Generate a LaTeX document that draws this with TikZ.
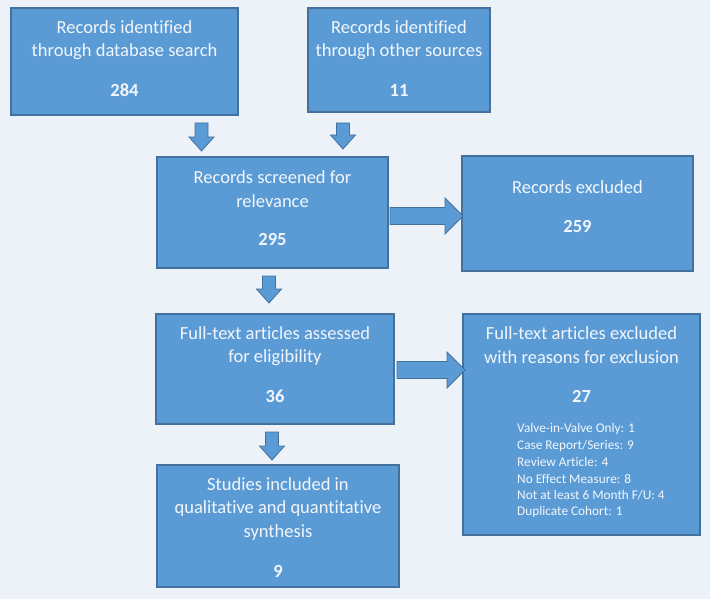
\documentclass[tikz,border=0pt]{standalone}
\usepackage{fontspec}
\setmainfont[Ligatures=NoCommon]{Carlito}
\definecolor{bg}{HTML}{EDF2F9}
\definecolor{boxfill}{HTML}{5B9BD5}
\definecolor{boxline}{HTML}{41719C}
\definecolor{txtc}{HTML}{F2F6FB}
\newcommand\dnarrow[3]{\draw[blockarrow] (#1-6.5,#2) -- (#1+6.5,#2) -- (#1+6.5,#3-14) -- (#1+12.5,#3-14) -- (#1,#3) -- (#1-12.5,#3-14) -- (#1-6.5,#3-14) -- cycle;}
\newcommand\rtarrow[3]{\draw[blockarrow] (#2,#1-8.5) -- (#2,#1+8.5) -- (#3-18,#1+8.5) -- (#3-18,#1+18) -- (#3,#1) -- (#3-18,#1-18) -- (#3-18,#1-8.5) -- cycle;}
\begin{document}
\begin{tikzpicture}[x=1pt,y=-1pt,
 box/.style={draw=boxline,fill=boxfill,line width=1.1pt,anchor=north west,inner sep=0pt,outer sep=0pt},
 txt/.style={text=txtc,font=\fontsize{18.5}{22}\selectfont,inner sep=0pt,anchor=center},
 num/.style={text=txtc,font=\fontsize{18.5}{22}\selectfont\bfseries,inner sep=0pt,anchor=center},
 small/.style={text=txtc,font=\fontsize{13.3}{16}\selectfont,inner sep=0pt,anchor=west},
 blockarrow/.style={draw=boxline,fill=boxfill,line width=0.8pt,line join=miter}]
\fill[bg] (0,0) rectangle (710,599);
\useasboundingbox (0,0) rectangle (710,599);

% boxes
\node[box,minimum width=227pt,minimum height=107pt] (db) at (11,8) {};
\node[box,minimum width=182pt,minimum height=104pt] (oth) at (308,8) {};
\node[box,minimum width=231pt,minimum height=111pt] (scr) at (157,157) {};
\node[box,minimum width=231pt,minimum height=115pt] (exc) at (462,156) {};
\node[box,minimum width=238pt,minimum height=110pt] (ful) at (156,314) {};
\node[box,minimum width=237pt,minimum height=221pt] (fex) at (463,314) {};
\node[box,minimum width=242pt,minimum height=122pt] (inc) at (157,465) {};

% texts
\node[txt] (db1) at (124.5,27) {Records identified};
\node[txt] (db2) at (124.5,52) {through database search};
\node[num] (db3) at (124.5,90) {284};

\node[txt] (ot1) at (399,27) {Records identified};
\node[txt] (ot2) at (399,52) {through other sources};
\node[num] (ot3) at (399,90) {11};

\node[txt] (sc1) at (272.5,177) {Records screened for};
\node[txt] (sc2) at (272.5,201) {relevance};
\node[num] (sc3) at (272.5,239) {295};

\node[txt] (ex1) at (577.5,187) {Records excluded};
\node[num] (ex2) at (577.5,226) {259};

\node[txt] (fu1) at (275,333) {Full-text articles assessed};
\node[txt] (fu2) at (275,358) {for eligibility};
\node[num] (fu3) at (275,396) {36};

\node[txt] (fe1) at (581.5,333) {Full-text articles excluded};
\node[txt] (fe2) at (581.5,357) {with reasons for exclusion};
\node[num] (fe3) at (581.5,396) {27};
\node[small] (r1) at (517,429) {Valve-in-Valve Only: 1};
\node[small] (r2) at (517,446) {Case Report/Series: 9};
\node[small] (r3) at (517,462) {Review Article: 4};
\node[small] (r4) at (517,479) {No Effect Measure: 8};
\node[small] (r5) at (517,495) {Not at least 6 Month F/U: 4};
\node[small] (r6) at (517,512) {Duplicate Cohort: 1};

\node[txt] (in1) at (278,484) {Studies included in};
\node[txt] (in2) at (278,509) {qualitative and quantitative};
\node[txt] (in3) at (278,533) {synthesis};
\node[num] (in4) at (278,571) {9};

% arrows
\dnarrow{201.5}{123}{151}
\dnarrow{343}{123}{149}
\dnarrow{269}{276}{303}
\dnarrow{272}{432}{460}
\rtarrow{216}{390}{463}
\rtarrow{370}{397}{465}
\end{tikzpicture}
\end{document}
